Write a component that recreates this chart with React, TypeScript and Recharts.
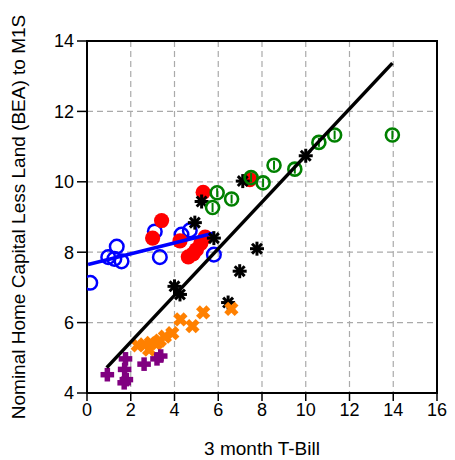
import {
  ScatterChart,
  Scatter,
  XAxis,
  YAxis,
  CartesianGrid,
  ReferenceArea,
} from "recharts";

// blue open circles
const blueX = [0.15, 0.97, 1.36, 1.25, 1.58, 3.1, 3.33, 4.32, 4.7, 5.8];
const blueY = [7.13, 7.86, 8.16, 7.81, 7.74, 8.59, 7.86, 8.5, 8.62, 7.93];
// red filled circles
const redX = [3.0, 3.41, 4.25, 4.63, 4.85, 5.0, 5.2, 5.4, 5.31, 7.44];
const redY = [8.4, 8.9, 8.32, 7.87, 7.95, 8.07, 8.25, 8.43, 9.7, 10.06];
// black asterisks
const blackX = [4.0, 4.25, 4.93, 5.24, 5.8, 6.45, 6.98, 7.12, 7.77, 10.0];
const blackY = [7.03, 6.8, 8.84, 9.44, 8.4, 6.57, 7.46, 10.02, 8.1, 10.74];
// green circles with bar
const greenX = [5.74, 5.95, 6.61, 7.5, 8.05, 8.55, 9.5, 10.6, 11.32, 13.96];
const greenY = [9.27, 9.69, 9.51, 10.12, 9.97, 10.47, 10.36, 11.12, 11.33, 11.33];
// orange crosses
const orangeX = [2.32, 2.62, 2.84, 2.92, 3.15, 3.33, 3.56, 3.9, 4.27, 4.82, 5.31, 6.6];
const orangeY = [5.35, 5.38, 5.23, 5.42, 5.4, 5.49, 5.6, 5.7, 6.09, 5.9, 6.29, 6.39];
// purple pluses
const purpleX = [0.93, 1.76, 1.72, 1.8, 1.7, 2.61, 3.2, 3.37];
const purpleY = [4.52, 4.97, 4.67, 4.38, 4.29, 4.82, 4.97, 5.05];
// fitted lines
const blueLineX = [0.05, 5.77];
const blueLineY = [7.65, 8.54];
const blackLineX = [0.9, 13.96];
const blackLineY = [4.72, 13.37];

const xTicks = [0, 2, 4, 6, 8, 10, 12, 14, 16];
const yTicks = [4, 6, 8, 10, 12, 14];

const toPoints = (xs: number[], ys: number[]) =>
  xs.map((x, i) => ({ x, y: ys[i] }));

const OpenCircle = ({ cx, cy }: any) => (
  <circle cx={cx} cy={cy} r={6.8} fill="none" stroke="#0000ff" strokeWidth={2.5} />
);

const FilledCircle = ({ cx, cy }: any) => (
  <circle cx={cx} cy={cy} r={7.6} fill="#ff0000" />
);

const Asterisk = ({ cx, cy }: any) => {
  const r = 7;
  const angles = [0, 45, 90, 135];
  return (
    <g stroke="#000" strokeWidth={3}>
      {angles.map((a) => {
        const dx = r * Math.cos((a * Math.PI) / 180);
        const dy = r * Math.sin((a * Math.PI) / 180);
        return <line key={a} x1={cx - dx} y1={cy - dy} x2={cx + dx} y2={cy + dy} />;
      })}
      <circle cx={cx} cy={cy} r={3} fill="#000" stroke="none" />
    </g>
  );
};

const ThetaCircle = ({ cx, cy }: any) => (
  <g stroke="#008000" fill="none">
    <circle cx={cx} cy={cy} r={6.5} strokeWidth={2.6} />
    <line x1={cx} y1={cy - 4.5} x2={cx} y2={cy + 4.5} strokeWidth={2} />
  </g>
);

const FatCross = ({ cx, cy }: any) => {
  const r = 5.2;
  return (
    <g stroke="#ff8000" strokeWidth={5.5}>
      <line x1={cx - r} y1={cy - r} x2={cx + r} y2={cy + r} />
      <line x1={cx - r} y1={cy + r} x2={cx + r} y2={cy - r} />
    </g>
  );
};

const FatPlus = ({ cx, cy }: any) => {
  const r = 6.8;
  return (
    <g stroke="#800080" strokeWidth={5.5}>
      <line x1={cx - r} y1={cy} x2={cx + r} y2={cy} />
      <line x1={cx} y1={cy - r} x2={cx} y2={cy + r} />
    </g>
  );
};

const NoShape = () => <g />;

export default function App() {
  return (
    <div style={{ position: "absolute", left: 0, top: 0 }}>
      <ScatterChart
        width={455}
        height={460}
        margin={{ top: 41, right: 18, bottom: 3, left: 5 }}
        style={{ fontFamily: "'Liberation Sans', Arial, sans-serif" }}
      >
        <CartesianGrid stroke="#aaaaaa" strokeDasharray="6 4" strokeWidth={1.2} />
        <XAxis
          type="number"
          dataKey="x"
          domain={[0, 16]}
          ticks={xTicks}
          allowDataOverflow
          height={64}
          tickSize={8}
          tickMargin={2}
          axisLine={{ stroke: "#000", strokeWidth: 2 }}
          tickLine={{ stroke: "#000", strokeWidth: 1.5 }}
          tick={{ fill: "#000", fontSize: 18 }}
          label={{
            value: "3 month T-Bill",
            position: "insideBottom",
            offset: 2,
            fill: "#000",
            fontSize: 19,
          }}
        />
        <YAxis
          type="number"
          dataKey="y"
          domain={[4, 14]}
          ticks={yTicks}
          allowDataOverflow
          width={82}
          tickSize={10}
          tickMargin={3}
          axisLine={{ stroke: "#000", strokeWidth: 2 }}
          tickLine={{ stroke: "#000", strokeWidth: 1.5 }}
          tick={{ fill: "#000", fontSize: 18 }}
          label={{
            value: "Nominal Home Capital Less Land (BEA) to M1S",
            angle: -90,
            position: "insideLeft",
            offset: 13,
            fill: "#000",
            fontSize: 19,
            style: { textAnchor: "middle" },
          }}
        />
        <ReferenceArea
          x1={0}
          x2={16}
          y1={4}
          y2={14}
          fill="none"
          stroke="#000"
          strokeWidth={2}
        />
        <Scatter data={toPoints(blueX, blueY)} shape={OpenCircle} isAnimationActive={false} />
        <Scatter data={toPoints(redX, redY)} shape={FilledCircle} isAnimationActive={false} />
        <Scatter
          data={toPoints(blueLineX, blueLineY)}
          line={{ stroke: "#0000ff", strokeWidth: 3.5 }}
          shape={NoShape}
          isAnimationActive={false}
        />
        <Scatter data={toPoints(blackX, blackY)} shape={Asterisk} isAnimationActive={false} />
        <Scatter data={toPoints(greenX, greenY)} shape={ThetaCircle} isAnimationActive={false} />
        <Scatter data={toPoints(orangeX, orangeY)} shape={FatCross} isAnimationActive={false} />
        <Scatter data={toPoints(purpleX, purpleY)} shape={FatPlus} isAnimationActive={false} />
        <Scatter
          data={toPoints(blackLineX, blackLineY)}
          line={{ stroke: "#000", strokeWidth: 3.5 }}
          shape={NoShape}
          isAnimationActive={false}
        />
      </ScatterChart>
    </div>
  );
}
